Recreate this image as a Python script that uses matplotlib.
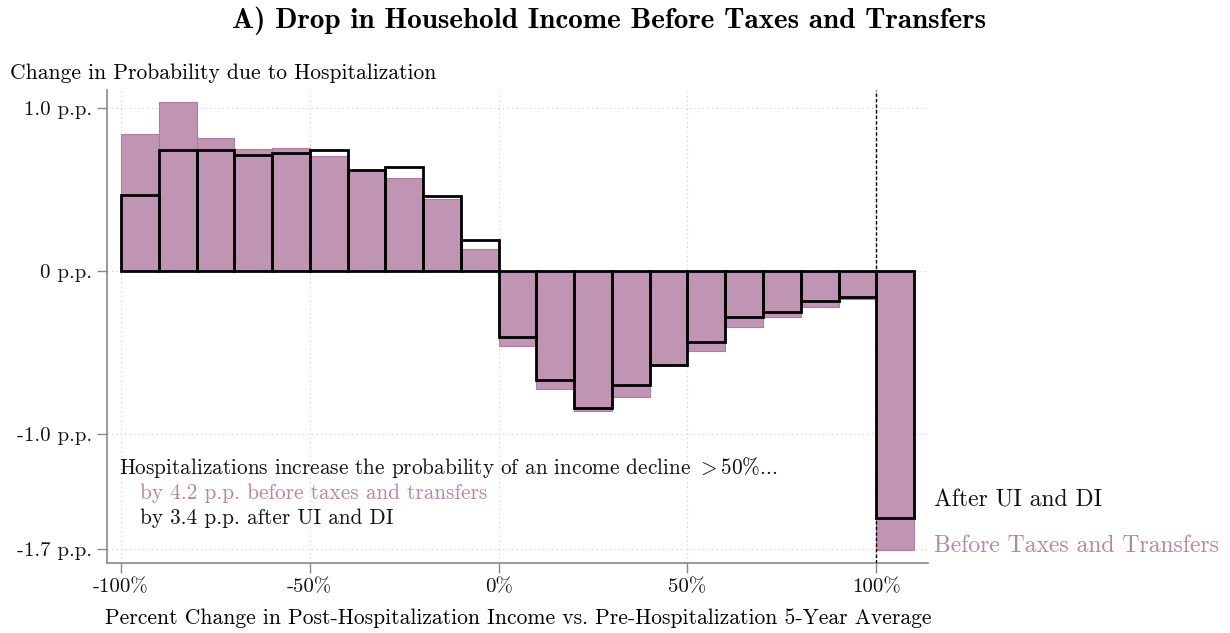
import matplotlib
matplotlib.use("Agg")
import matplotlib.pyplot as plt
import numpy as np

plt.rcParams['font.family'] = ['cmr10', 'DejaVu Serif']
plt.rcParams['mathtext.fontset'] = 'cm'
plt.rcParams['axes.unicode_minus'] = False

# bin left edges (percent change in income)
bins = [-100, -90, -80, -70, -60, -50, -40, -30, -20, -10,
        0, 10, 20, 30, 40, 50, 60, 70, 80, 90, 100]
before = [0.837, 1.035, 0.816, 0.751, 0.755, 0.704, 0.620, 0.571, 0.439, 0.133,
          -0.461, -0.720, -0.859, -0.773, -0.575, -0.492, -0.345, -0.280, -0.220, -0.169,
          -1.707]
after = [0.469, 0.743, 0.739, 0.712, 0.724, 0.739, 0.622, 0.639, 0.459, 0.192,
         -0.404, -0.669, -0.841, -0.698, -0.573, -0.435, -0.280, -0.253, -0.182, -0.159,
         -1.513]

yticks = [1.0, 0.0, -1.0, -1.7]
ytick_labels = ['1.0 p.p.', '0 p.p.', '-1.0 p.p.', '-1.7 p.p.']
xticks = [-100, -50, 0, 50, 100]
xtick_labels = ['-100%', '-50%', '0%', '50%', '100%']

purple = '#c095b3'
purple_txt = '#b584a8'

fig = plt.figure(figsize=(12.3, 6.33), dpi=100)
ax = fig.add_axes([0.087, 0.111, 0.6675, 0.747])

ax.bar(bins, before, width=10, align='edge', color=purple,
       edgecolor='#b07ba0', linewidth=0.8, zorder=2)
ax.bar(bins, after, width=10, align='edge', fill=False,
       edgecolor='black', linewidth=2.0, zorder=3)

ax.axvline(100, color='black', linestyle=(0, (2.5, 1.5)), linewidth=1.0, zorder=4)

ax.set_xlim(-103.7, 113.7)
ax.set_ylim(-1.786, 1.11)
ax.set_xticks(xticks)
ax.set_xticklabels(xtick_labels, fontsize=15)
ax.set_yticks(yticks)
ax.set_yticklabels(ytick_labels, fontsize=15)
ax.grid(True, color='#cccccc', linestyle=(0, (1, 3)), linewidth=0.8, zorder=0)
ax.set_axisbelow(True)

for s in ['top', 'right']:
    ax.spines[s].set_visible(False)
for s in ['left', 'bottom']:
    ax.spines[s].set_color('#888888')
    ax.spines[s].set_linewidth(1.2)
ax.tick_params(colors='#888888', length=7, width=1.0, labelcolor='#111111', pad=4)

fig.text(0.495, 0.968, 'A) Drop in Household Income Before Taxes and Transfers',
         ha='center', va='center', fontsize=21, family='cmb10')
fig.text(0.008, 0.884, 'Change in Probability due to Hospitalization',
         ha='left', va='center', fontsize=15.5)
fig.text(0.421, 0.024, 'Percent Change in Post-Hospitalization Income vs. Pre-Hospitalization 5-Year Average',
         ha='center', va='center', fontsize=15.5)

fig.text(0.097, 0.262, 'Hospitalizations increase the probability of an income decline ${>}$50%...',
         ha='left', va='center', fontsize=15.3, color='#111111')
fig.text(0.114, 0.221, 'by 4.2 p.p. before taxes and transfers',
         ha='left', va='center', fontsize=15.3, color=purple_txt)
fig.text(0.114, 0.182, 'by 3.4 p.p. after UI and DI',
         ha='left', va='center', fontsize=15.3, color='#111111')

fig.text(0.759, 0.21, 'After UI and DI', ha='left', va='center', fontsize=17, color='#111111')
fig.text(0.759, 0.137, 'Before Taxes and Transfers', ha='left', va='center',
         fontsize=17, color=purple_txt)

fig.savefig('out.png', dpi=100)
